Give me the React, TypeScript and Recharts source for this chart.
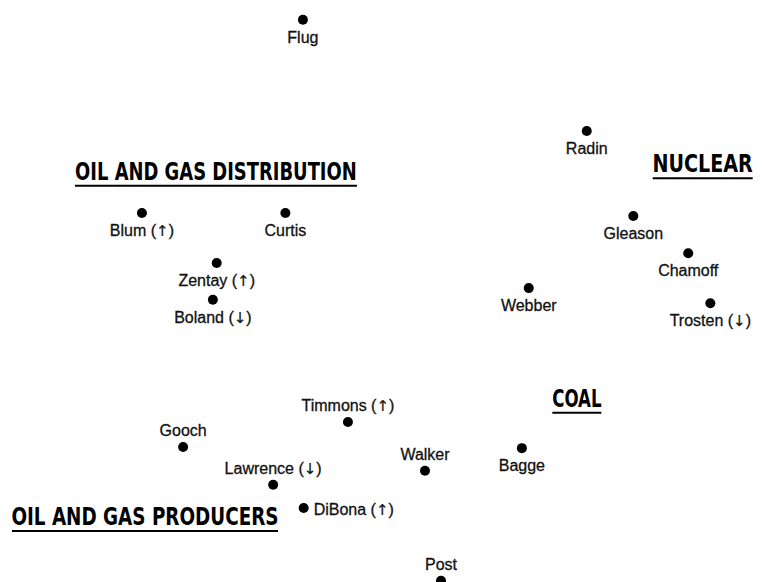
import {Scatter, ScatterChart, XAxis, YAxis} from "recharts";

// executives placed on the map (x, y in arbitrary 0-100 units, y up)
const names = [
  "Flug", "Radin", "Gleason", "Chamoff", "Trosten (↓)", "Webber",
  "Blum (↑)", "Curtis", "Zentay (↑)", "Boland (↓)",
  "Timmons (↑)", "Gooch", "Lawrence (↓)", "Walker", "Bagge", "DiBona (↑)", "Post",
];
const xs = [39.7, 76.9, 83.0, 90.2, 93.1, 69.3, 18.6, 37.4, 28.4, 27.9, 45.6, 24.0, 35.8, 55.7, 68.4, 39.8, 57.8];
const ys = [96.6, 77.5, 62.9, 56.5, 47.9, 50.5, 63.4, 63.4, 54.8, 48.5, 27.5, 23.2, 16.7, 19.1, 23.0, 12.7, 0.2];

// industry group headings
const groups = ["OIL AND GAS DISTRIBUTION", "NUCLEAR", "COAL", "OIL AND GAS PRODUCERS"];
const groupX = [28.3, 92.1, 75.6, 19.0];
const groupY = [69.1, 70.4, 30.1, 9.8];

const above = new Set(["Timmons (↑)", "Gooch", "Lawrence (↓)", "Walker", "Post"]);
const right = new Set(["DiBona (↑)"]);
// printed width of each heading (px) and the horizontal squeeze that gets there
const headingWidth: Record<string, number> = {
  "OIL AND GAS DISTRIBUTION": 282,
  NUCLEAR: 100,
  COAL: 49,
  "OIL AND GAS PRODUCERS": 266,
};
const headingSqueeze: Record<string, number> = {
  "OIL AND GAS DISTRIBUTION": 0.83,
  NUCLEAR: 0.885,
  COAL: 0.77,
  "OIL AND GAS PRODUCERS": 0.85,
};

const people = names.map((name, i) => ({name, x: xs[i], y: ys[i]}));
const headings = groups.map((name, i) => ({name, x: groupX[i], y: groupY[i]}));

const labelProps = {
  fontSize: 16,
  fontFamily: "'Liberation Sans', Arial, sans-serif",
  fill: "#111",
  stroke: "#111",
  strokeWidth: 0.3,
};

// the arrows print larger than the Liberation glyphs, so draw them in DejaVu
function labelParts(name: string) {
  return name.split(/([↑↓])/).map((part, i) =>
    part === "↑" || part === "↓" ? (
      <tspan key={i} fontFamily="'DejaVu Sans', sans-serif" fontSize={15} strokeWidth={0.2}>
        {part}
      </tspan>
    ) : (
      <tspan key={i}>{part}</tspan>
    ),
  );
}

function PersonDot(props: any) {
  const {cx, cy, payload} = props;
  const name: string = payload.name;
  let label;
  if (right.has(name)) {
    label = <text x={cx + 10} y={cy + 7} {...labelProps}>{labelParts(name)}</text>;
  } else if (above.has(name)) {
    label = <text x={cx} y={cy - 11} textAnchor="middle" {...labelProps}>{labelParts(name)}</text>;
  } else {
    label = <text x={cx} y={cy + 23} textAnchor="middle" {...labelProps}>{labelParts(name)}</text>;
  }
  return (
    <g>
      <circle cx={cx} cy={cy} r={5} fill="#000" />
      {label}
    </g>
  );
}

function Heading(props: any) {
  const {cx, cy, payload} = props;
  const w = headingWidth[payload.name];
  const sx = headingSqueeze[payload.name];
  return (
    <g>
      <g transform={`translate(${cx},${cy}) scale(${sx},1)`}>
        <text
          x={0}
          y={0}
          textAnchor="middle"
          fontSize={24}
          fontWeight="bold"
          fontFamily="'DejaVu Sans Condensed', 'Liberation Sans Narrow', sans-serif"
          fill="#000"
        >
          {payload.name}
        </text>
      </g>
      <line x1={cx - w / 2} x2={cx + w / 2} y1={cy + 6} y2={cy + 6} stroke="#000" strokeWidth={2} />
    </g>
  );
}

export default function App() {
  return (
    <div style={{position: "absolute", left: 0, top: 0, background: "#fff"}}>
      <ScatterChart width={763} height={582} margin={{top: 0, right: 0, bottom: 0, left: 0}}>
        <XAxis type="number" dataKey="x" domain={[0, 100]} hide />
        <YAxis type="number" dataKey="y" domain={[0, 100]} hide />
        <Scatter data={headings} shape={Heading} isAnimationActive={false} />
        <Scatter data={people} shape={PersonDot} isAnimationActive={false} />
      </ScatterChart>
    </div>
  );
}
